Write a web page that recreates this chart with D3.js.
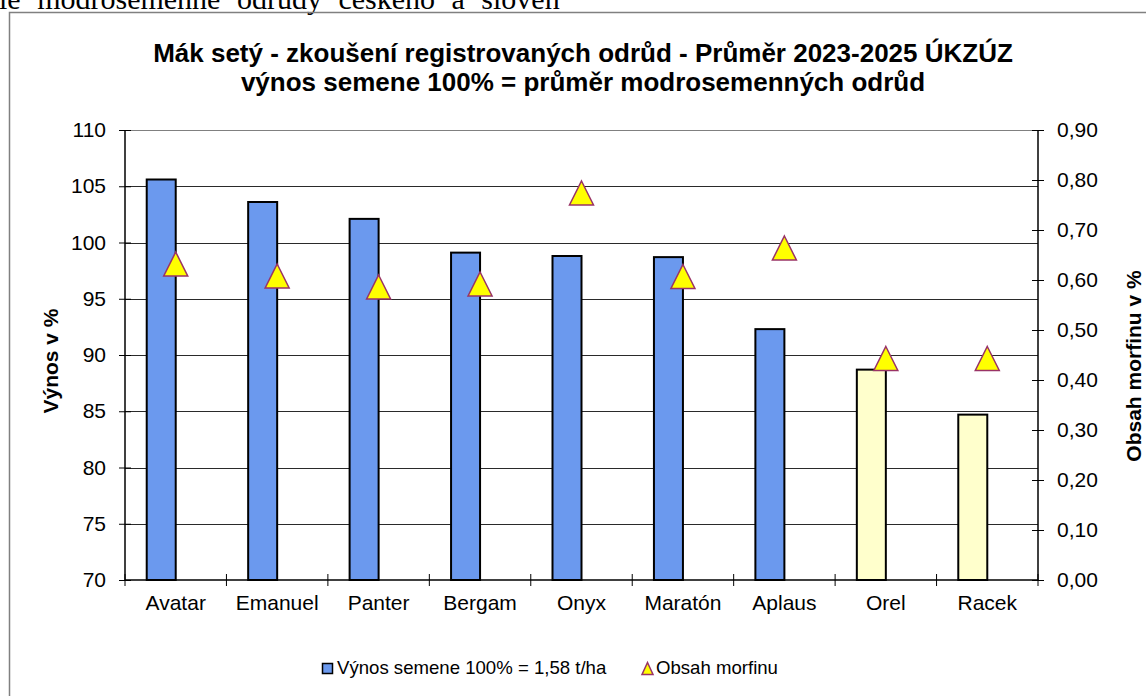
<!DOCTYPE html>
<html lang="cs">
<head>
<meta charset="UTF-8">
<title>Mák setý</title>
<style>
  body { margin: 0; background: #fff; }
  svg { display: block; font-family: "Liberation Sans", Arial, sans-serif; }
  .tick text { font-size: 21px; fill: #000; }
  .grid line { stroke: #2a2a2a; shape-rendering: crispEdges; }
</style>
</head>
<body>
<div id="chart"></div>
<script src="https://d3js.org/d3.v7.min.js"></script>
<script>
const categories = ['Avatar', 'Emanuel', 'Panter', 'Bergam', 'Onyx', 'Maratón', 'Aplaus', 'Orel', 'Racek']
const yieldPct = [105.6, 103.6, 102.1, 99.1, 98.8, 98.7, 92.3, 88.7, 84.7]
const morphine = [0.632, 0.608, 0.586, 0.592, 0.774, 0.607, 0.664, 0.443, 0.443]
const seedType = ['modrá', 'modrá', 'modrá', 'modrá', 'modrá', 'modrá', 'modrá', 'jiná', 'jiná']
const leftTicks = [70, 75, 80, 85, 90, 95, 100, 105, 110]
const rightTicks = [0, 0.1, 0.2, 0.3, 0.4, 0.5, 0.6, 0.7, 0.8, 0.9]

const width = 1146
const height = 696
const plot = { left: 125, right: 1038, top: 130, bottom: 580 }
const barW = 29
const tri = 12 // half size of the triangle marker

const svg = d3.select('#chart').append('svg')
  .attr('width', width)
  .attr('height', height)

// document text cut off above the chart
svg.append('text')
  .attr('x', -1)
  .attr('y', 8.5)
  .attr('font-family', '"Liberation Serif", "Times New Roman", serif')
  .attr('font-size', 30)
  .attr('word-spacing', 9)
  .text('le modrosemenné odrůdy českého a sloven')

// chart frame (continues past right/bottom edge)
svg.append('rect')
  .attr('x', 9.5).attr('y', 12.5)
  .attr('width', 1300).attr('height', 900)
  .attr('fill', 'none')
  .attr('stroke', '#808080')
  .attr('stroke-width', 1.5)

const x = d3.scaleBand().domain(categories).range([plot.left, plot.right]).padding(0)
const y = d3.scaleLinear().domain([70, 110]).range([plot.bottom, plot.top])
const y2 = d3.scaleLinear().domain([0, 0.9]).range([plot.bottom, plot.top])

// gridlines
svg.append('g')
  .attr('class', 'grid')
  .attr('transform', `translate(${plot.left},0)`)
  .call(d3.axisLeft(y).tickValues(leftTicks.slice(1, -1)).tickSize(-(plot.right - plot.left)).tickFormat(''))
  .call(g => g.select('.domain').remove())

svg.append('line')
  .attr('x1', plot.left).attr('x2', plot.right)
  .attr('y1', plot.top + 0.5).attr('y2', plot.top + 0.5)
  .attr('stroke', '#808080')

// bars
svg.append('g')
  .selectAll('rect')
  .data(categories)
  .join('rect')
  .attr('x', d => x(d) + x.bandwidth() / 2 - barW)
  .attr('y', (d, i) => y(yieldPct[i]))
  .attr('width', barW)
  .attr('height', (d, i) => y(70) - y(yieldPct[i]))
  .attr('fill', (d, i) => seedType[i] === 'modrá' ? '#6b99ee' : '#ffffcc')
  .attr('stroke', '#000')
  .attr('stroke-width', 2)

// left axis
const leftAxis = svg.append('g')
  .attr('transform', `translate(${plot.left},0)`)
  .call(d3.axisLeft(y).tickValues(leftTicks).tickSize(6).tickPadding(13).tickFormat(d3.format('d')))
leftAxis.select('.domain').attr('d', `M0,${plot.top}V${plot.bottom}`).attr('stroke-width', 1.5)
leftAxis.selectAll('.tick line').attr('x1', 6)

// right axis
const rightAxis = svg.append('g')
  .attr('transform', `translate(${plot.right},0)`)
  .call(d3.axisRight(y2).tickValues(rightTicks).tickSize(6).tickPadding(13)
    .tickFormat(d => d3.format('.2f')(d).replace('.', ',')))
rightAxis.select('.domain').attr('d', `M0,${plot.top}V${plot.bottom}`).attr('stroke-width', 1.5)
rightAxis.selectAll('.tick line').attr('x1', -6)

// bottom axis
const bottomAxis = svg.append('g')
  .attr('transform', `translate(0,${plot.bottom})`)
  .call(d3.axisBottom(x).tickSize(0).tickPadding(15))
bottomAxis.select('.domain').attr('d', `M${plot.left},0H${plot.right}`).attr('stroke-width', 1.5)
bottomAxis.selectAll('.tick text').attr('dy', '0.71em')
bottomAxis.selectAll('line.sep')
  .data(d3.range(categories.length + 1))
  .join('line')
  .attr('class', 'sep')
  .attr('x1', i => plot.left + i * x.step())
  .attr('x2', i => plot.left + i * x.step())
  .attr('y1', -6).attr('y2', 6)
  .attr('stroke', '#000')

// morphine markers
const triPath = `M0,${-tri}L${tri},${tri}L${-tri},${tri}Z`
svg.append('g')
  .selectAll('path')
  .data(categories)
  .join('path')
  .attr('transform', (d, i) => `translate(${x(d) + x.bandwidth() / 2},${y2(morphine[i])})`)
  .attr('d', triPath)
  .attr('fill', '#ffff00')
  .attr('stroke', '#993366')
  .attr('stroke-width', 1.5)

// titles
const title = svg.append('text')
  .attr('text-anchor', 'middle')
  .attr('font-weight', 'bold')
  .attr('font-size', 26)
title.append('tspan').attr('x', 583).attr('y', 62)
  .text('Mák setý - zkoušení registrovaných odrůd - Průměr 2023-2025 ÚKZÚZ')
title.append('tspan').attr('x', 583).attr('y', 91)
  .text('výnos semene 100% = průměr modrosemenných odrůd')

svg.append('text')
  .attr('transform', 'translate(58,361) rotate(-90)')
  .attr('text-anchor', 'middle')
  .attr('font-weight', 'bold')
  .attr('font-size', 21)
  .text('Výnos v %')

svg.append('text')
  .attr('transform', 'translate(1141,366) rotate(-90)')
  .attr('text-anchor', 'middle')
  .attr('font-weight', 'bold')
  .attr('font-size', 21)
  .text('Obsah morfinu v %')

// legend
const legend = svg.append('g').attr('font-size', 18.6)
legend.append('rect')
  .attr('x', 322.5).attr('y', 663.5).attr('width', 10).attr('height', 10)
  .attr('fill', '#6b99ee').attr('stroke', '#000').attr('stroke-width', 1.5)
legend.append('text').attr('x', 337).attr('y', 674)
  .text('Výnos semene 100% = 1,58 t/ha')
legend.append('path')
  .attr('transform', 'translate(647.5,668.5)')
  .attr('d', 'M0,-6L5.5,6L-5.5,6Z')
  .attr('fill', '#ffff00').attr('stroke', '#993366').attr('stroke-width', 1.5)
legend.append('text').attr('x', 656).attr('y', 674)
  .text('Obsah morfinu')
</script>
</body>
</html>
